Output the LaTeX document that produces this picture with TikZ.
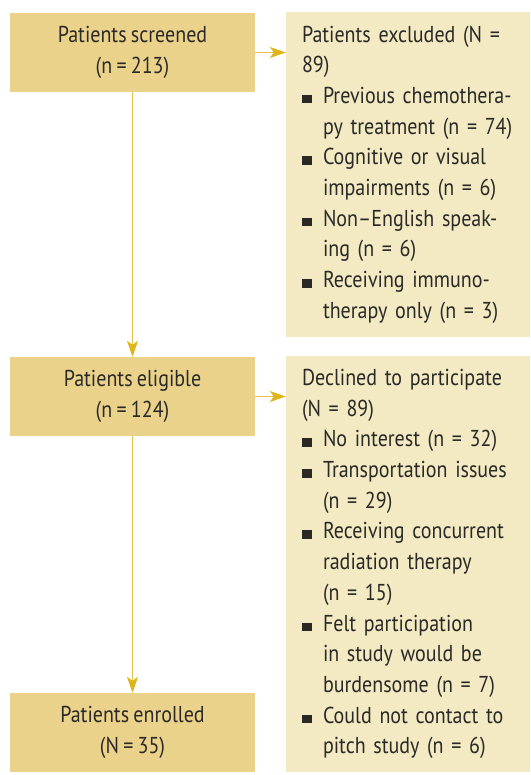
\documentclass[tikz,border=0pt]{standalone}
\usepackage{fontspec}
\setmainfont[FakeStretch=0.87, WordSpace=0.8]{PT Sans}
\usetikzlibrary{calc}
\usetikzlibrary{arrows.meta}
\definecolor{boxdark}{HTML}{EBD28B}
\definecolor{boxlight}{HTML}{F3E9C3}
\definecolor{gold}{HTML}{E0B51A}
\definecolor{goldline}{HTML}{E6C24A}
\definecolor{ink}{HTML}{2A2926}
\newcommand\sqbul{\makebox[21pt][l]{\rule{9.5pt}{8.5pt}}}
\newcommand\sqind{\hspace*{21pt}}
\tikzset{
  every picture/.style={
    x=1pt, y=1pt,
    >={Stealth[width=11pt, length=16pt, inset=4pt, color=gold]}
  },
  stage/.style={
    fill=boxdark, minimum width=245pt, minimum height=79pt,
    inner sep=0pt, align=center, text=ink,
    font=\fontsize{23}{31}\selectfont
  },
  outbox/.style={
    fill=boxlight, text width=212pt,
    inner xsep=16pt, inner ysep=0pt, align=left, text=ink,
    font=\fontsize{23}{30.7}\selectfont
  },
  flow/.style={
    draw=goldline, line width=1.5pt, ->
  }
}

\begin{document}
\begin{tikzpicture}
    \useasboundingbox (0,0) rectangle (530,-775);
    \node [stage] (scr) at (132.5,-52.5) {Patients screened\\(n = 213)};
    \node [outbox, minimum height=325pt] (exc) at (408,-174.5) {%
      Patients excluded (N =\\89)\\
      \sqbul Previous chemothera-\\\sqind py treatment (n = 74)\\
      \sqbul Cognitive or visual\\\sqind impairments (n = 6)\\
      \sqbul Non–English speak-\\\sqind ing (n = 6)\\
      \sqbul Receiving immuno-\\\sqind therapy only (n = 3)};
    \node [stage] (elig) at (132.5,-396.5) {Patients eligible\\(n = 124)};
    \node [outbox, minimum height=416pt] (decl) at (408,-564) {%
      Declined to participate\\(N = 89)\\
      \sqbul No interest (n = 32)\\
      \sqbul Transportation issues\\\sqind (n = 29)\\
      \sqbul Receiving concurrent\\\sqind radiation therapy\\\sqind (n = 15)\\
      \sqbul Felt participation\\\sqind in study would be\\\sqind burdensome (n = 7)\\
      \sqbul Could not contact to\\\sqind pitch study (n = 6)};
    \node [stage] (enr) at (132.5,-732.5) {Patients enrolled\\(N = 35)};
    \draw [flow] (scr) -- (elig);
    \draw [flow] (elig) -- (enr);
    \draw [flow] (scr.east) -- (scr.east -| exc.west);
    \draw [flow] (elig.east) -- (elig.east -| decl.west);
  \end{tikzpicture}
\end{document}
